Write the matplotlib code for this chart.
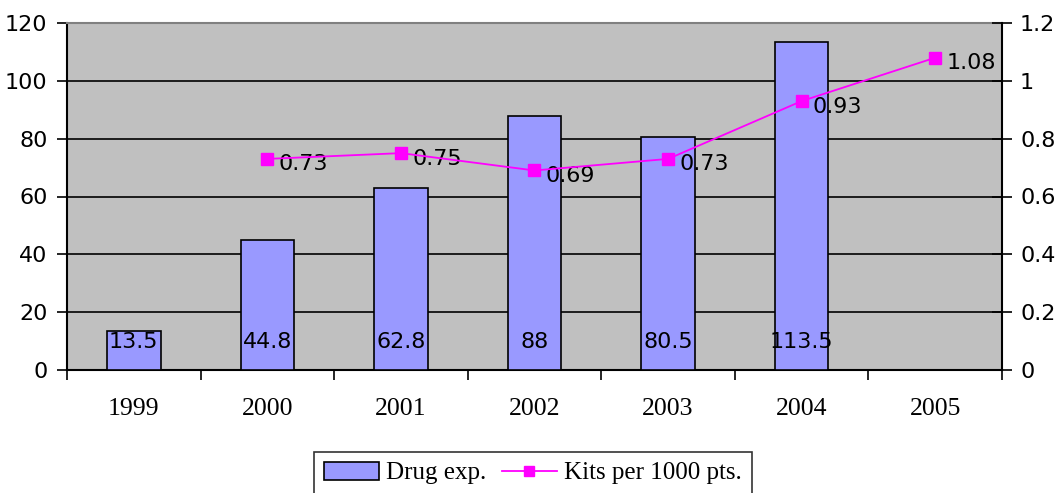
import numpy as np
import matplotlib.pyplot as plt
from matplotlib.lines import Line2D
from matplotlib.patches import Patch

years = ['1999', '2000', '2001', '2002', '2003', '2004', '2005']
drug_exp = [13.5, 44.8, 62.8, 88, 80.5, 113.5, np.nan]
kits = [np.nan, 0.73, 0.75, 0.69, 0.73, 0.93, 1.08]

sans = 'DejaVu Sans'
serif = 'Liberation Serif'

fig = plt.figure(figsize=(10.57, 4.93), dpi=100)
ax = fig.add_axes([67/1057, 1 - 370/493, (1002-67)/1057, (370-23)/493])
ax.set_facecolor('#C0C0C0')

x = np.arange(len(years))
ax.bar(x, drug_exp, width=0.4, color='#9999FF', edgecolor='black', linewidth=1.2, zorder=3)
for xi, v in zip(x, drug_exp):
    if not np.isnan(v):
        ax.annotate(f'{v:g}', (xi, 0), xytext=(0, 20), textcoords='offset points',
                    ha='center', va='center', fontsize=16, family=sans, zorder=4)

ax.set_xlim(-0.5, len(years) - 0.5)
ax.set_ylim(0, 120)
ax.set_yticks(np.arange(0, 121, 20))
ax.yaxis.grid(True, color='black', linewidth=1.2, zorder=0)
ax.set_axisbelow(True)
ax.set_xticks(x)
ax.set_xticklabels(years, fontsize=18.5, family=serif)
ax.set_xticks(np.arange(-0.5, len(years)), minor=True)
ax.tick_params(axis='x', which='major', length=0, pad=20)
ax.tick_params(axis='x', which='minor', length=7, width=1.2, direction='out')
ax.tick_params(axis='y', length=7, width=1.2, labelsize=16, pad=7)
for lbl in ax.get_yticklabels():
    lbl.set_family(sans)
ax.spines['top'].set_color('#808080')
ax.spines['top'].set_linewidth(1.5)
ax.spines['right'].set_visible(False)
ax.spines['left'].set_linewidth(1.5)
ax.spines['bottom'].set_linewidth(1.5)

ax2 = ax.twinx()
ax2.plot(x, kits, color='#FF00FF', linewidth=1.3, marker='s', markersize=8, zorder=5)
for xi, v in zip(x, kits):
    if not np.isnan(v):
        ax2.annotate(f'{v:g}', (xi, v), xytext=(8, -4), textcoords='offset points',
                     ha='left', va='center', fontsize=16, family=sans)
ax2.set_ylim(0, 1.2)
ax2.set_yticks(np.arange(0, 1.21, 0.2))
ax2.set_yticklabels(['0', '0.2', '0.4', '0.6', '0.8', '1', '1.2'], family=sans, fontsize=16)
ax2.tick_params(axis='y', length=14, width=1.2, direction='inout', pad=6)
ax2.spines['right'].set_linewidth(1.5)
for s in ['top', 'left', 'bottom']:
    ax2.spines[s].set_visible(False)

handles = [Patch(facecolor='#9999FF', edgecolor='black', linewidth=1.2),
           Line2D([], [], color='#FF00FF', marker='s', markersize=7, linewidth=1.3)]
leg = fig.legend(handles, ['Drug exp.', 'Kits per 1000 pts.'], loc='upper center',
                 bbox_to_anchor=(533/1057, 1 - 452/493), ncol=2, frameon=True,
                 fancybox=False, edgecolor='black', prop={'family': serif, 'size': 18},
                 handlelength=2.2, handletextpad=0.3, columnspacing=0.6, borderpad=0.4,
                 borderaxespad=0)
leg.get_frame().set_linewidth(1.2)

fig.savefig('out.png', dpi=100)
